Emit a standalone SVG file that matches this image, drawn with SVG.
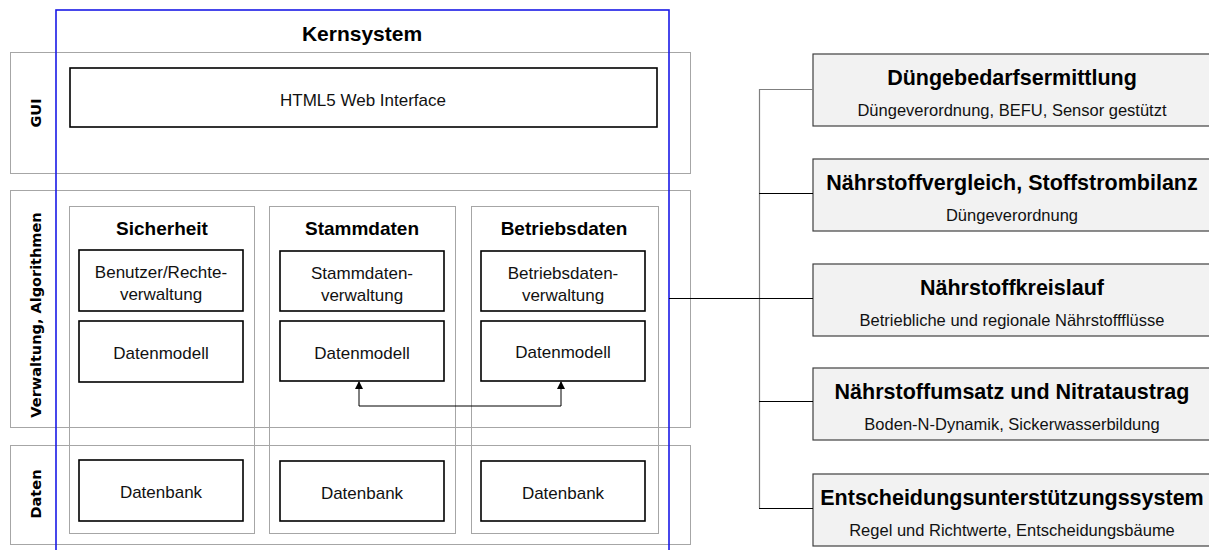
<svg xmlns="http://www.w3.org/2000/svg" width="1209" height="550" viewBox="0 0 1209 550">
<style>
.band{fill:none;stroke:#a6a6a6;stroke-width:1}
.col{fill:none;stroke:#a6a6a6;stroke-width:1}
.box{fill:#fff;stroke:#000;stroke-width:1.6}
.rbox{fill:#f2f2f2;stroke:#404040;stroke-width:1.2}
.t{font-family:"Liberation Sans",Arial,sans-serif;font-size:17px;fill:#111;text-anchor:middle}
.tb{font-family:"Liberation Sans",Arial,sans-serif;font-size:19px;font-weight:bold;fill:#000;text-anchor:middle}
.rt{font-family:"Liberation Sans",Arial,sans-serif;font-size:21.5px;font-weight:bold;fill:#000;text-anchor:middle}
.rs{font-family:"Liberation Sans",Arial,sans-serif;font-size:16.5px;fill:#111;text-anchor:middle}
.lbl{font-family:"DejaVu Sans",Verdana,sans-serif;font-size:14.5px;font-weight:bold;fill:#000;text-anchor:middle}
.ln{fill:none;stroke:#000;stroke-width:1}
.tr{fill:none;stroke:#7f7f7f;stroke-width:1.2}
</style>
<defs>
<marker id="ah" markerWidth="8" markerHeight="8" refX="7" refY="4" orient="auto" markerUnits="userSpaceOnUse">
<path d="M0,0 L8,4 L0,8 z" fill="#000"/>
</marker>
</defs>
<g id="gui-band">
<rect class="band" x="10.5" y="52.5" width="680" height="121"/>
<text class="lbl" transform="translate(41,113) rotate(-90)">GUI</text>
</g>
<g id="verwaltung-band">
<rect class="band" x="10.5" y="190.5" width="680" height="237"/>
<text class="lbl" transform="translate(41,315) rotate(-90)">Verwaltung, Algorithmen</text>
</g>
<g id="daten-band">
<rect class="band" x="10.5" y="445.5" width="680" height="99"/>
<text class="lbl" transform="translate(41,494) rotate(-90)">Daten</text>
</g>
<g id="col-sicherheit">
<rect class="col" x="69.5" y="206.5" width="185" height="327"/>
<text class="tb" x="162" y="235">Sicherheit</text>
</g>
<g id="col-stammdaten">
<rect class="col" x="269.5" y="206.5" width="186" height="327"/>
<text class="tb" x="362" y="235">Stammdaten</text>
</g>
<g id="col-betriebsdaten">
<rect class="col" x="471.5" y="206.5" width="187" height="327"/>
<text class="tb" x="564" y="235">Betriebsdaten</text>
</g>
<g id="kernsystem">
<rect x="56" y="10" width="613" height="560" fill="none" stroke="#1a1ae6" stroke-width="1.6"/>
<text class="tb" x="362" y="41" style="font-size:21px">Kernsystem</text>
</g>
<g id="html5">
<rect class="box" x="70" y="68" width="587" height="59"/>
<text class="t" x="363" y="106">HTML5 Web Interface</text>
</g>
<g id="benutzer">
<rect class="box" x="79" y="250" width="164" height="61"/>
<text class="t" x="161" y="278">Benutzer/Rechte-</text>
<text class="t" x="161" y="300">verwaltung</text>
</g>
<g id="dm1">
<rect class="box" x="79" y="321" width="164" height="61"/>
<text class="t" x="161" y="359">Datenmodell</text>
</g>
<g id="stammverw">
<rect class="box" x="280" y="251" width="164" height="60"/>
<text class="t" x="362" y="279">Stammdaten-</text>
<text class="t" x="362" y="301">verwaltung</text>
</g>
<g id="dm2">
<rect class="box" x="280" y="321" width="164" height="60"/>
<text class="t" x="362" y="359">Datenmodell</text>
</g>
<g id="betriebverw">
<rect class="box" x="481" y="251" width="164" height="60"/>
<text class="t" x="563" y="279">Betriebsdaten-</text>
<text class="t" x="563" y="301">verwaltung</text>
</g>
<g id="dm3">
<rect class="box" x="481" y="321" width="164" height="60"/>
<text class="t" x="563" y="358">Datenmodell</text>
</g>
<g id="db1">
<rect class="box" x="79" y="460" width="164" height="61"/>
<text class="t" x="161" y="498">Datenbank</text>
</g>
<g id="db2">
<rect class="box" x="280" y="461" width="164" height="60"/>
<text class="t" x="362" y="499">Datenbank</text>
</g>
<g id="db3">
<rect class="box" x="481" y="461" width="164" height="60"/>
<text class="t" x="563" y="499">Datenbank</text>
</g>
<g id="r1">
<rect class="rbox" x="813" y="54" width="400" height="72"/>
<text class="rt" x="1012" y="85">Düngebedarfsermittlung</text>
<text class="rs" x="1012" y="116">Düngeverordnung, BEFU, Sensor gestützt</text>
</g>
<g id="r2">
<rect class="rbox" x="813" y="159" width="400" height="72"/>
<text class="rt" x="1012" y="190">Nährstoffvergleich, Stoffstrombilanz</text>
<text class="rs" x="1012" y="221">Düngeverordnung</text>
</g>
<g id="r3">
<rect class="rbox" x="813" y="264" width="400" height="72"/>
<text class="rt" x="1012" y="295">Nährstoffkreislauf</text>
<text class="rs" x="1012" y="326">Betriebliche und regionale Nährstoffflüsse</text>
</g>
<g id="r4">
<rect class="rbox" x="813" y="368" width="400" height="72"/>
<text class="rt" x="1012" y="399">Nährstoffumsatz und Nitrataustrag</text>
<text class="rs" x="1012" y="430">Boden-N-Dynamik, Sickerwasserbildung</text>
</g>
<g id="r5">
<rect class="rbox" x="813" y="474" width="400" height="72"/>
<text class="rt" x="1012" y="505">Entscheidungsunterstützungssystem</text>
<text class="rs" x="1012" y="536">Regel und Richtwerte, Entscheidungsbäume</text>
</g>
<g id="connectors">
<path class="ln" d="M359,406 V382" marker-end="url(#ah)"/>
<path class="ln" d="M359,406 H561 V382" marker-end="url(#ah)"/>
<path class="ln" d="M669,298.5 H759"/>
<path class="tr" d="M759.5,89 V508"/>
<path class="tr" d="M759,89.5 H813"/>
<path class="ln" d="M759,193.5 H813"/>
<path class="ln" d="M759,298.5 H813"/>
<path class="ln" d="M759,401.5 H813"/>
<path class="ln" d="M759,508.5 H813"/>
</g>
</svg>
